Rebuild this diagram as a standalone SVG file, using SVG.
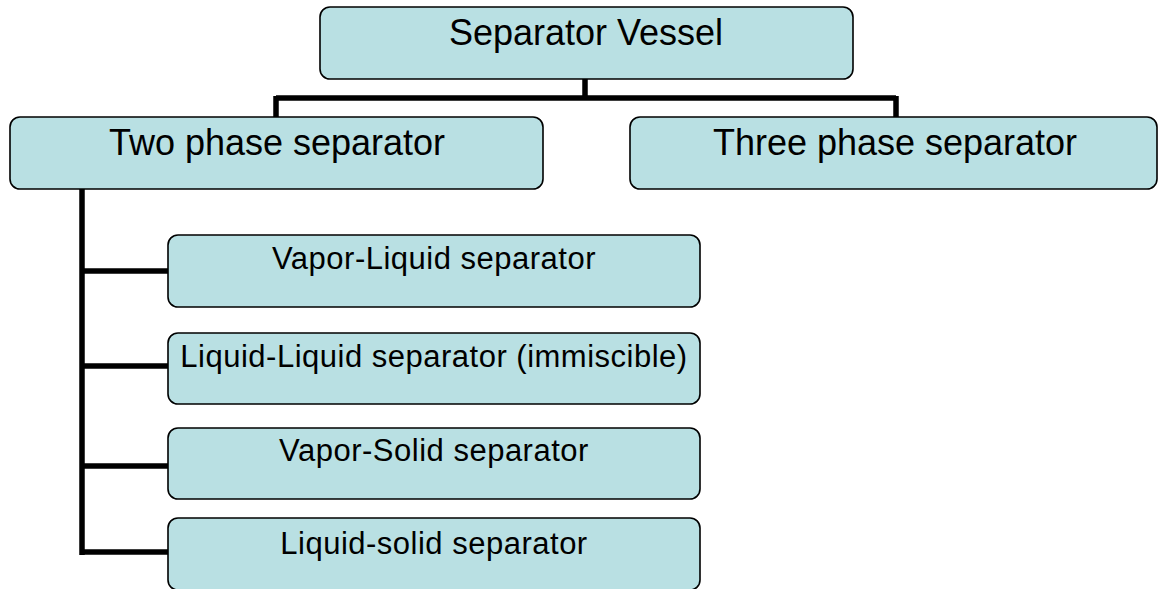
<svg xmlns="http://www.w3.org/2000/svg" width="1159" height="589" viewBox="0 0 1159 589">
<style>
.box{fill:#B9E0E3;stroke:#000;stroke-width:1.6}
.t1{font-family:"Liberation Sans",Arial,sans-serif;font-size:36px;fill:#000;text-anchor:middle}
.t2{font-family:"Liberation Sans",Arial,sans-serif;font-size:31px;letter-spacing:0.5px;fill:#000;text-anchor:middle}
.con{stroke:#000;stroke-width:5.5;fill:none}
</style>
<rect width="1159" height="589" fill="#fff"/>
<g id="connectors">
<path class="con" d="M585 79V98M276 98H896M276 96V118M896 96V118"/>
<path class="con" d="M82 189V555M80 271H168M80 366H168M80 466H168M80 552H168"/>
</g>
<g id="n-vessel"><rect class="box" x="320" y="7" width="533" height="72" rx="10"/><text class="t1" x="586" y="45">Separator Vessel</text></g>
<g id="n-two"><rect class="box" x="10" y="117" width="533" height="72" rx="10"/><text class="t1" x="277" y="155">Two phase separator</text></g>
<g id="n-three"><rect class="box" x="630" y="117" width="527" height="72" rx="10"/><text class="t1" x="895" y="155">Three phase separator</text></g>
<g id="n-vl"><rect class="box" x="168" y="235" width="532" height="72" rx="10"/><text class="t2" x="434" y="269">Vapor-Liquid separator</text></g>
<g id="n-ll"><rect class="box" x="168" y="333" width="532" height="71" rx="10"/><text class="t2" x="434" y="367">Liquid-Liquid separator (immiscible)</text></g>
<g id="n-vs"><rect class="box" x="168" y="428" width="532" height="71" rx="10"/><text class="t2" x="434" y="461">Vapor-Solid separator</text></g>
<g id="n-ls"><rect class="box" x="168" y="518" width="532" height="72" rx="10"/><text class="t2" x="434" y="554">Liquid-solid separator</text></g>
</svg>
